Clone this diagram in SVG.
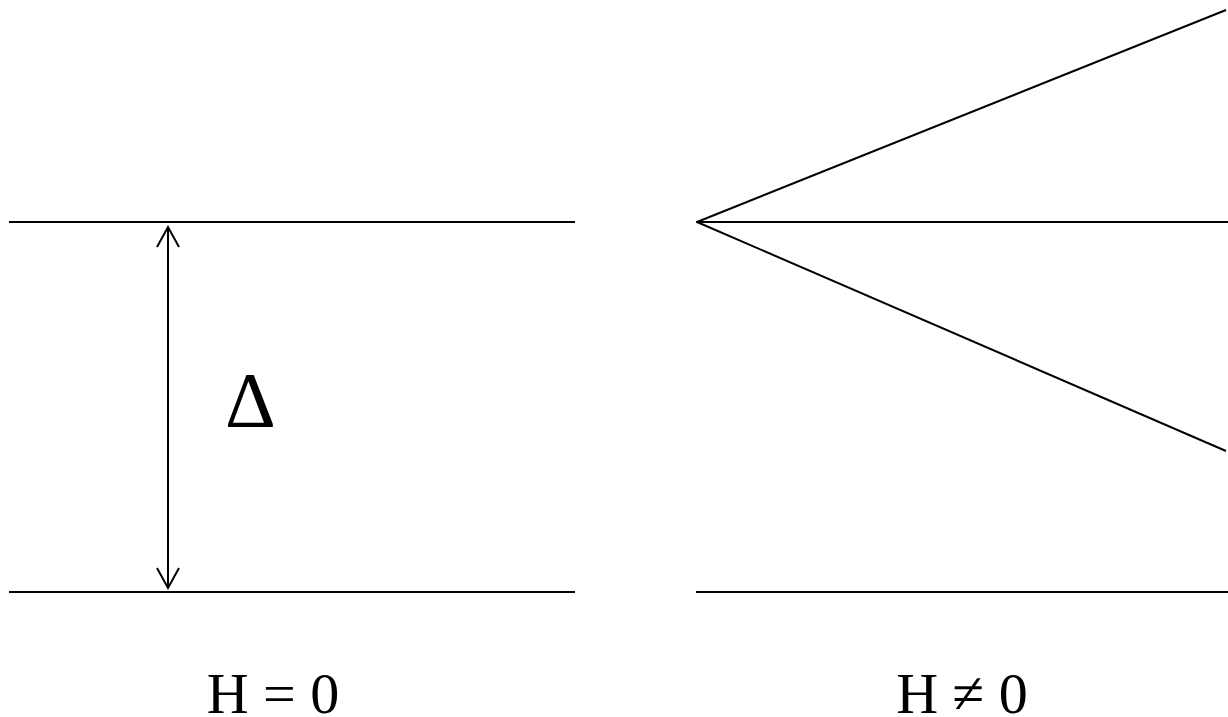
<svg xmlns="http://www.w3.org/2000/svg" width="1228" height="717" viewBox="0 0 1228 717">
<style>
.ln{stroke:#000;stroke-width:2;fill:none}
.lbl{font-family:"Liberation Serif","Times New Roman",serif;fill:#000}
</style>
<rect width="1228" height="717" fill="#fff"/>
<g id="connectors">
<line class="ln" x1="9" y1="222" x2="575" y2="222"/>
<line class="ln" x1="9" y1="592" x2="575" y2="592"/>
<line class="ln" x1="168" y1="228" x2="168" y2="587"/>
<polyline class="ln" points="157,247 168,227 179,247"/>
<polyline class="ln" points="157,568 168,588 179,568"/>
<line class="ln" x1="696" y1="222" x2="1228" y2="222"/>
<line class="ln" x1="696" y1="592" x2="1228" y2="592"/>
<line class="ln" x1="697" y1="222" x2="1226" y2="10"/>
<line class="ln" x1="697" y1="222" x2="1226" y2="451"/>
</g>
<g id="delta"><text class="lbl" x="225" y="426" font-size="79">Δ</text></g>
<g id="label-h0"><text class="lbl" x="273" y="713" font-size="58" text-anchor="middle">H = 0</text></g>
<g id="label-hneq0"><text class="lbl" x="962" y="713" font-size="58" text-anchor="middle">H ≠ 0</text></g>
</svg>
